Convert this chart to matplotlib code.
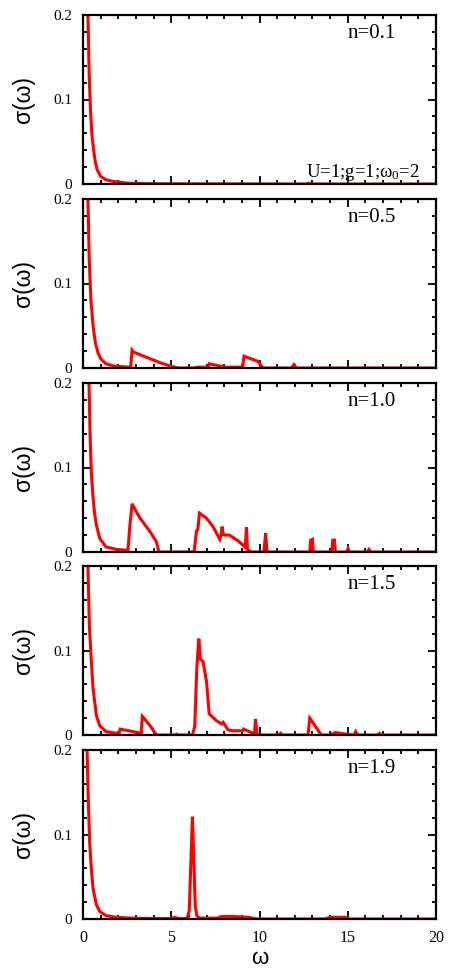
import numpy as np
import matplotlib
matplotlib.use('Agg')
import matplotlib.pyplot as plt
from matplotlib.ticker import MultipleLocator

# optical conductivity sigma(w) for several fillings n
labels = ['n=0.1', 'n=0.5', 'n=1.0', 'n=1.5', 'n=1.9']

w1 = [0.2, 0.28, 0.35, 0.42, 0.5, 0.6, 0.7, 0.8, 1.0, 1.3, 1.7, 2.5, 4.0, 12.6, 12.8, 13.0, 20]
s1 = [0.35, 0.2, 0.13, 0.09, 0.06, 0.04, 0.026, 0.017, 0.009, 0.005, 0.003, 0.001, 0.0003, 0, 0.001, 0, 0]

w2 = [0.2, 0.28, 0.35, 0.45, 0.57, 0.7, 0.85, 1.0, 1.3, 1.8, 2.7, 2.78, 2.85, 3.2, 3.8, 4.4, 5.0,
      5.4, 6.3, 6.5, 6.7, 7.1, 7.15, 7.6, 8.1, 8.5, 9.05, 9.12, 9.5, 9.9, 10.2, 11.8, 11.95, 12.1, 20]
s2 = [0.4, 0.2, 0.13, 0.08, 0.05, 0.03, 0.018, 0.011, 0.005, 0.002, 0.001, 0.021, 0.019, 0.016, 0.011,
      0.006, 0.002, 0, 0, 0.001, 0.001, 0.001, 0.005, 0.003, 0.001, 0.001, 0.001, 0.014, 0.011, 0.008,
      0, 0, 0.004, 0, 0]

w3 = [0.2, 0.34, 0.4, 0.47, 0.57, 0.66, 0.76, 0.95, 1.3, 1.9, 2.55, 2.65, 2.78, 3.2, 3.8, 4.16, 4.3,
      6.3, 6.35, 6.43, 6.5, 6.6, 7.0, 7.37, 7.75, 7.82, 7.88, 7.95, 8.05, 8.3, 8.8, 9.17, 9.22, 9.26,
      9.32, 9.45, 9.6, 10.25, 10.35, 10.42, 10.5, 12.85, 12.9, 13.0, 13.05, 13.1, 14.1, 14.15, 14.25,
      14.3, 14.95, 15.02, 15.1, 16.1, 16.2, 16.3, 20]
s3 = [0.45, 0.2, 0.14, 0.095, 0.064, 0.045, 0.032, 0.016, 0.006, 0.003, 0.002, 0.03, 0.057, 0.041,
      0.024, 0.012, 0, 0, 0.01, 0.025, 0.026, 0.046, 0.04, 0.03, 0.015, 0.02, 0.03, 0.021, 0.02, 0.02,
      0.013, 0.006, 0.015, 0.029, 0.003, 0.001, 0, 0, 0.022, 0.001, 0, 0, 0.014, 0.015, 0.001, 0, 0,
      0.014, 0.014, 0, 0, 0.004, 0, 0, 0.003, 0, 0]

w4 = [0.2, 0.28, 0.36, 0.47, 0.57, 0.76, 0.95, 1.3, 1.9, 2.05, 2.1, 2.6, 3.3, 3.36, 3.45, 3.8, 4.16,
      5.2, 5.3, 5.4, 6.2, 6.33, 6.45, 6.56, 6.65, 6.8, 7.0, 7.15, 7.56, 7.85, 7.94, 8.22, 8.5, 9.04,
      9.1, 9.64, 9.72, 9.77, 9.87, 11.1, 11.2, 11.3, 12.75, 12.85, 13.5, 14.0, 14.3, 14.9, 15.35,
      15.45, 15.55, 16.7, 16.8, 16.9, 20]
s4 = [0.4, 0.2, 0.13, 0.088, 0.055, 0.023, 0.011, 0.004, 0.002, 0.002, 0.007, 0.005, 0.002, 0.022,
      0.02, 0.011, 0, 0, 0.001, 0, 0, 0.01, 0.08, 0.114, 0.09, 0.087, 0.063, 0.025, 0.017, 0.013,
      0.015, 0.006, 0.005, 0.005, 0.007, 0.002, 0.002, 0.019, 0, 0, 0.002, 0, 0, 0.02, 0, 0, 0.003,
      0.001, 0, 0.004, 0, 0, 0.002, 0, 0]

w5 = [0.2, 0.23, 0.3, 0.38, 0.47, 0.57, 0.76, 0.95, 1.3, 1.9, 2.8, 4.0, 5.0, 5.2, 5.4, 5.9, 6.02,
      6.1, 6.2, 6.28, 6.36, 6.45, 6.6, 7.6, 7.85, 8.5, 9.4, 9.8, 13.7, 14.0, 14.9, 15.1, 20]
s5 = [0.3, 0.2, 0.14, 0.09, 0.06, 0.036, 0.017, 0.009, 0.004, 0.002, 0.001, 0.0005, 0.0005, 0.002,
      0.0005, 0.0005, 0.01, 0.06, 0.121, 0.07, 0.015, 0.004, 0.001, 0.001, 0.003, 0.003, 0.002, 0, 0,
      0.002, 0.002, 0, 0]

curves = [(w1, s1), (w2, s2), (w3, s3), (w4, s4), (w5, s5)]

serif = 'Liberation Serif'
sans = 'Liberation Sans'
plt.rcParams['mathtext.fontset'] = 'custom'
plt.rcParams['mathtext.rm'] = serif
plt.rcParams['mathtext.it'] = serif + ':italic'

fig = plt.figure(figsize=(4.57, 9.69), dpi=100)
W, H = 457.0, 969.0
tops = [15, 199, 383, 566, 750]
h = 169

for i, (w, s) in enumerate(curves):
    ax = fig.add_axes([83 / W, 1 - (tops[i] + h) / H, 353 / W, h / H])
    ax.plot(w, s, color='#ff0000', lw=2.2, solid_joinstyle='miter')
    ax.set_xlim(0, 20)
    ax.set_ylim(0, 0.2)
    ax.xaxis.set_major_locator(MultipleLocator(5))
    ax.xaxis.set_minor_locator(MultipleLocator(1))
    ax.yaxis.set_major_locator(MultipleLocator(0.1))
    ax.yaxis.set_minor_locator(MultipleLocator(0.02))
    ax.tick_params(which='both', direction='in', top=True, right=True, width=1.3)
    ax.tick_params(which='major', length=6)
    ax.tick_params(which='minor', length=3)
    ax.tick_params(axis='y', pad=8)
    ax.tick_params(axis='x', pad=8)
    for sp in ax.spines.values():
        sp.set_linewidth(1.6)
    ax.set_yticks([0, 0.1, 0.2])
    ax.set_yticklabels(['0', '0.1', '0.2'], fontfamily=serif, fontsize=11)
    if i == 4:
        ax.set_xticks([0, 5, 10, 15, 20])
        ax.set_xticklabels(['0', '5', '10', '15', '20'], fontfamily=serif, fontsize=11.5)
        ax.set_xlabel('ω', fontfamily=sans, fontsize=16, va='center')
        ax.xaxis.set_label_coords(0.5, -39 / h)
    else:
        ax.set_xticklabels([])
    ax.set_ylabel('σ(ω)', fontfamily=sans, fontsize=16.5, va='center')
    ax.yaxis.set_label_coords(-59 / 353, 0.5)
    ax.text(0.75, 0.89, labels[i], transform=ax.transAxes, fontfamily=serif,
            fontsize=15, ha='left', va='center')
    if i == 0:
        ax.text(0.955, 0.07, 'U=1;g=1;ω$_0$=2', transform=ax.transAxes,
                fontfamily=serif, fontsize=13.5, ha='right', va='center')

plt.savefig('out.png', dpi=100)
